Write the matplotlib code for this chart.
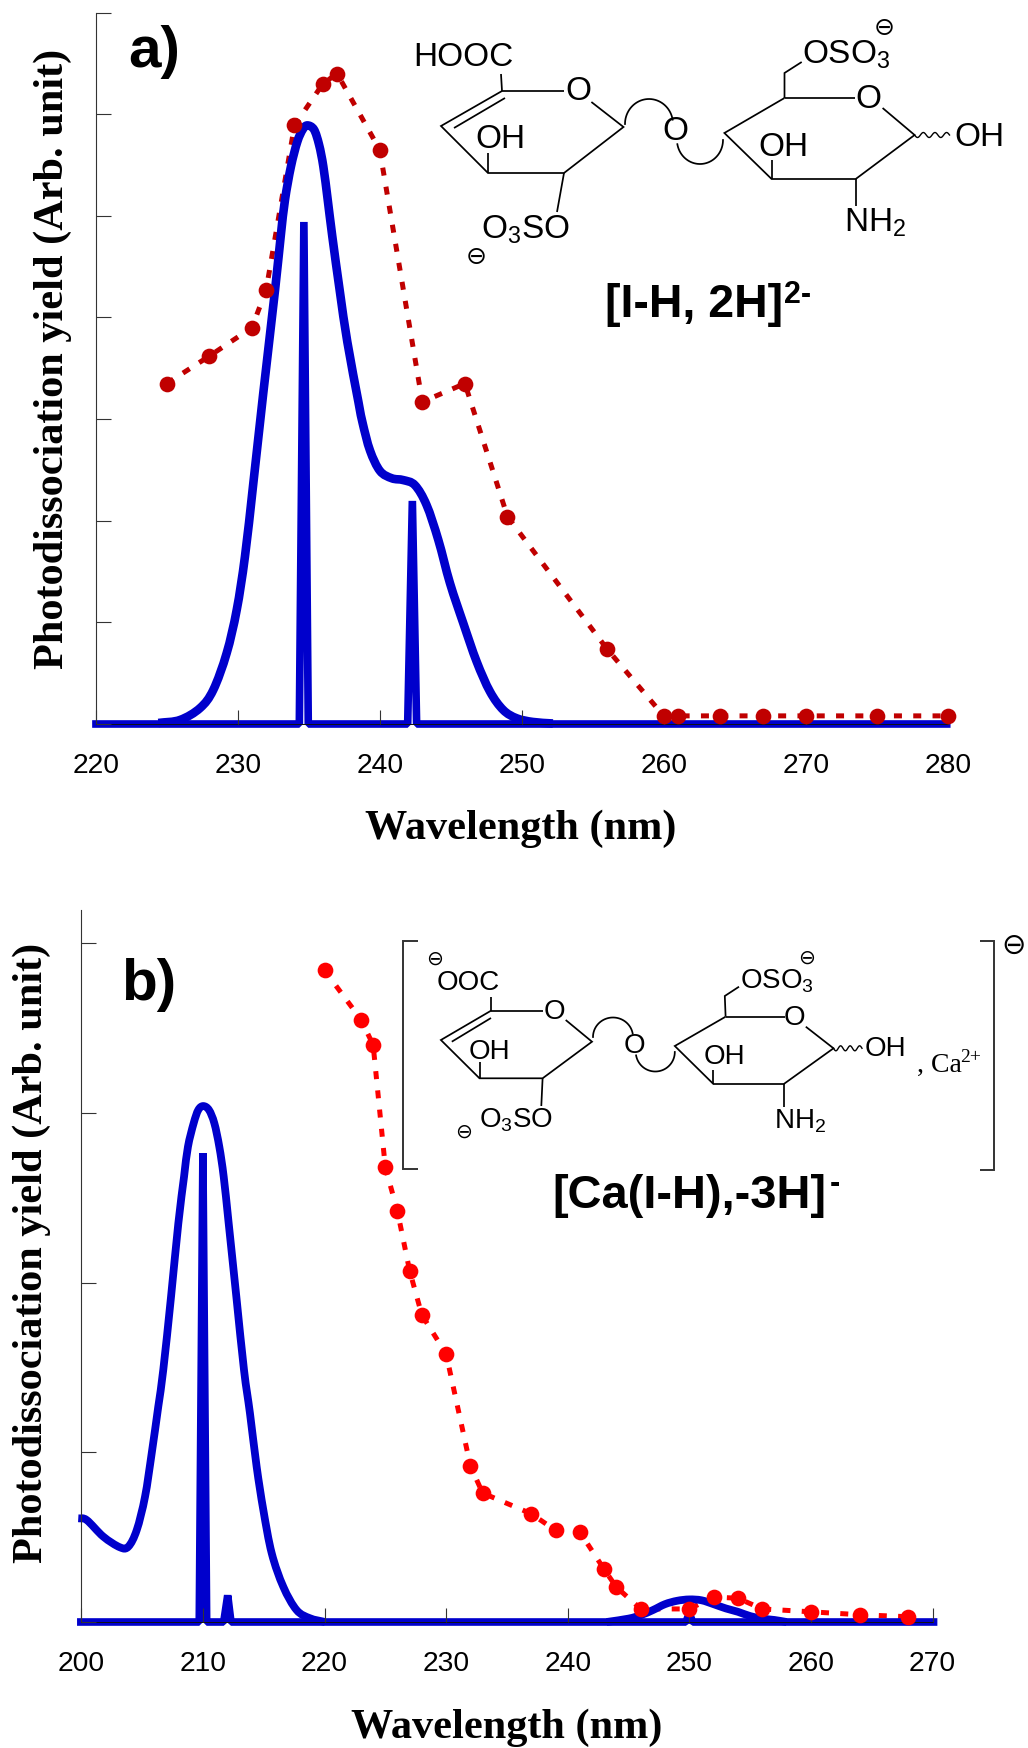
import numpy as np
import matplotlib
matplotlib.use('Agg')
import matplotlib.pyplot as plt
from matplotlib.path import Path
from matplotlib.patches import PathPatch

plt.rcParams['font.family'] = ['Liberation Sans', 'DejaVu Sans']
plt.rcParams['mathtext.default'] = 'regular'

W, H = 1028, 1748
BLUE = '#0000CC'
RED_A = '#C00000'
RED_B = '#FF0000'
GREY = '#333333'

# panel a, experiment points
exp_x_a = [225, 228, 231, 232, 234, 236, 237, 240, 243, 246, 249, 256, 260, 261, 264, 267, 270, 275, 280]
exp_y_a = [3.35, 3.62, 3.90, 4.27, 5.89, 6.30, 6.40, 5.65, 3.17, 3.35, 2.04, 0.74, 0.08, 0.08, 0.08, 0.08, 0.08, 0.08, 0.08]
# panel a, calculated envelope
calc_x_a = [224.41, 225.94, 227.35, 228.28, 229.22, 229.93, 230.51, 231.1, 231.8, 232.63, 233.03, 233.33, 233.75,
            234.2, 234.58, 234.9, 235.37, 235.73, 236.03, 236.34, 236.66, 237.2, 237.72, 238.5, 238.8, 239.32,
            240.02, 240.85, 241.66, 242.48, 243.3, 244.13, 244.95, 245.89, 246.83, 247.77, 248.7, 249.65, 250.8, 252.2]
calc_y_a = [0.01, 0.04, 0.157, 0.335, 0.696, 1.122, 1.647, 2.369, 3.255, 4.27, 4.80, 5.157, 5.486,
            5.73, 5.85, 5.89, 5.85, 5.70, 5.486, 5.157, 4.80, 4.25, 3.76, 3.17, 2.96, 2.69,
            2.49, 2.418, 2.40, 2.35, 2.155, 1.81, 1.385, 0.99, 0.613, 0.318, 0.138, 0.056, 0.02, 0.005]
# panel a, sticks
stick_x_a = [219.75, 234.34, 234.66, 234.97, 241.97, 242.3, 242.6, 280.2]
stick_y_a = [0, 0, 4.94, 0, 0, 2.195, 0, 0]
ticks_a = [220, 230, 240, 250, 260, 270, 280]

# panel b, the envelope is two separate humps over a flat baseline
exp_x_b = [220, 223, 224, 225, 226, 227, 228, 230, 232, 233, 237, 239, 241, 243, 244, 246, 250, 252, 254, 256, 260, 264, 268]
exp_y_b = [3.84, 3.55, 3.40, 2.68, 2.42, 2.07, 1.81, 1.58, 0.92, 0.76, 0.638, 0.54, 0.53, 0.31, 0.206, 0.077, 0.077, 0.147, 0.14, 0.077, 0.06, 0.043, 0.031]
calc_x_b = [199.75, 200.44, 201.81, 203.18, 203.87, 204.56, 205.24, 205.79, 206.33, 206.74, 207.38, 207.98, 208.45, 208.77,
            209.24, 209.62, 210.03, 210.5, 210.94, 211.35, 211.71, 212.12, 212.75, 213.38, 213.87, 214.42, 214.97,
            215.66, 216.61, 217.71, 218.81, 220.04]
calc_y_b = [0.611, 0.601, 0.503, 0.44, 0.444, 0.542, 0.738, 0.994, 1.269, 1.485, 1.917, 2.349, 2.624, 2.80,
            2.939, 3.017, 3.04, 3.017, 2.939, 2.80, 2.624, 2.349, 1.917, 1.485, 1.23, 0.915, 0.66,
            0.405, 0.208, 0.07, 0.022, 0]
bump_x_b = [243.2, 245, 246, 247, 248, 249, 250, 251, 252, 253, 254, 255, 256, 257, 258]
bump_y_b = [0, 0.02, 0.04, 0.07, 0.105, 0.125, 0.133, 0.128, 0.105, 0.08, 0.06, 0.035, 0.02, 0.012, 0]
stick_x_b = [199.65, 209.7, 210.0, 210.31, 211.71, 212.04, 212.31, 249.72, 250, 250.28, 270.4]
stick_y_b = [0, 0, 2.762, 0, 0, 0.157, 0, 0, 0.05, 0, 0]
ticks_b = [200, 210, 220, 230, 240, 250, 260, 270]


def make_axes(left, right, top, bottom):
    return fig.add_axes([left / W, 1 - bottom / H, (right - left) / W, (bottom - top) / H])


def smooth(ax, x, y, lw):
    # bezier through the read points, the original curve is a smoothed trace
    p = np.column_stack([x, y])
    tan = np.gradient(p, axis=0)
    verts = [p[0]]
    codes = [Path.MOVETO]
    for i in range(len(p) - 1):
        verts += [p[i] + tan[i] / 3, p[i + 1] - tan[i + 1] / 3, p[i + 1]]
        codes += [Path.CURVE4] * 3
    ax.add_patch(PathPatch(Path(verts, codes), fill=False, ec=BLUE, lw=lw, capstyle='butt',
                           joinstyle='round', clip_on=False, zorder=2.2))


def panel(ax, xlim, ylim, xticks, yticks, ex, ey, sx, sy, red):
    ax.set_xlim(xlim)
    ax.set_ylim(0, ylim)
    ax.set_axisbelow(False)
    ax.plot(ex, ey, color=red, lw=3.6, ls=(0, (1.6, 2.26)), dash_capstyle='butt', clip_on=False, zorder=2)
    ax.plot(sx, sy, color=BLUE, lw=5.5, solid_joinstyle='bevel', solid_capstyle='butt', clip_on=False, zorder=2.2)
    ax.plot(ex, ey, 'o', color=red, ms=11.3, mew=0, clip_on=False, zorder=4)
    for s in ['top', 'right']:
        ax.spines[s].set_visible(False)
    ax.spines['left'].set_color(GREY)
    # the axis line shows as a thin broken line over the blue baseline
    ax.spines['bottom'].set_color('#111111')
    ax.spines['bottom'].set_linewidth(0.7)
    ax.spines['bottom'].set_linestyle((0, (2.5, 1)))
    ax.set_xticks(xticks)
    ax.set_yticks(yticks)
    ax.set_yticklabels([])
    ax.tick_params(axis='x', direction='in', length=10, width=0.8, color=GREY, labelsize=20.3, pad=21)
    ax.tick_params(axis='y', direction='in', length=10.5, width=0.8, color=GREY)
    ax.patch.set_alpha(0)


fig = plt.figure(figsize=(W / 100, H / 100), dpi=100, facecolor='white')

ax_a = make_axes(95.7, 947.7, 12.6, 724)
panel(ax_a, (220, 280), 7, ticks_a, range(8), exp_x_a, exp_y_a, stick_x_a, stick_y_a, RED_A)
smooth(ax_a, calc_x_a, calc_y_a, 6.2)
ax_b = make_axes(81.3, 932.5, 909.7, 1622)
panel(ax_b, (200, 270), 4.197, ticks_b, range(5), exp_x_b, exp_y_b, stick_x_b, stick_y_b, RED_B)
smooth(ax_b, calc_x_b, calc_y_b, 5.6)
smooth(ax_b, bump_x_b, bump_y_b, 5.6)

# overlay in image pixels for labels and the molecule sketches
ov = fig.add_axes([0, 0, 1, 1], zorder=5)
ov.set_xlim(0, W)
ov.set_ylim(H, 0)
ov.axis('off')


def lines(*pts, color='black', lw=1.25):
    xs = [p[0] for p in pts]
    ys = [p[1] for p in pts]
    ov.plot(xs, ys, color=color, lw=lw, solid_joinstyle='miter', solid_capstyle='butt')


def arc(cx, cy, rx, ry, t0, t1):
    t = np.radians(np.linspace(t0, t1, 40))
    ov.plot(cx + rx * np.cos(t), cy - ry * np.sin(t), color='black', lw=1.25)


def wavy(x0, x1, y):
    t = np.linspace(0, 1, 60)
    ov.plot(x0 + (x1 - x0) * t, y + 2.5 * np.sin(t * 2 * np.pi * 3), color='black', lw=1.0)


def label(x, y, s, size, ha='left', va='center', **kw):
    ov.text(x, y, s, fontsize=size, ha=ha, va=va, **kw)


def minus(x, y, size=18):
    ov.text(x, y, '\u2296', fontsize=size, ha='center', va='center', family='DejaVu Sans')


serif_bold = dict(family='Liberation Serif', fontweight='bold')
label(521, 828.5, 'Wavelength (nm)', 30.4, ha='center', **serif_bold)
label(507, 1728, 'Wavelength (nm)', 30.4, ha='center', **serif_bold)
label(53, 358.5, 'Photodissociation yield (Arb. unit)', 30.4, ha='center', rotation=90, **serif_bold)
label(32, 1253, 'Photodissociation yield (Arb. unit)', 30.4, ha='center', rotation=90, **serif_bold)
label(128, 67, 'a)', 42, va='baseline', fontweight='bold')
label(121, 1000, 'b)', 42, va='baseline', fontweight='bold')

# molecule a
lines((502, 91), (441, 126), (488, 173), (564, 173), (623.5, 127), (591.4, 102))
lines((502, 91), (564, 91))
lines((454, 128), (505, 98))
lines((501, 74), (502, 91))
lines((488, 173), (488, 153))
lines((564, 173), (557, 212))
arc(649, 124, 24, 25, 180, 10)
arc(700, 140, 23, 24, 190, 360)
lines((784.5, 98), (724.4, 133), (771.6, 179), (855.7, 179), (914.6, 135), (882.6, 108))
lines((784.5, 98), (854.5, 98))
lines((784.5, 98), (784.5, 73), (801.7, 62))
lines((771.6, 179), (771.6, 160))
lines((855.7, 179), (855.7, 206))
wavy(914.6, 949.5, 135)
label(413, 58, 'HOOC', 24)
label(578, 92, 'O', 24, ha='center')
label(475, 140, 'OH', 24)
label(481, 230, 'O$_3$SO', 24)
minus(476, 257)
label(675.5, 132, 'O', 24, ha='center')
label(868.6, 99, 'O', 24, ha='center')
label(802, 55, 'OSO$_3$', 24)
minus(884, 28)
label(758, 147, 'OH', 24)
label(844, 223, 'NH$_2$', 24)
label(954, 137, 'OH', 24)
label(605, 316.7, '[I-H, 2H]', 33.5, va='baseline', fontweight='bold')
label(784, 303, '2-', 22, va='baseline', fontweight='bold')

# molecule b
lines((417.7, 940.7), (403, 940.7), (403, 1169), (417.7, 1169), color='#333333', lw=1.4)
lines((980, 940.7), (993.7, 940.7), (993.7, 1170), (980, 1170), color='#333333', lw=1.4)
lines((491, 1010.7), (440.9, 1040), (479.5, 1078.3), (542.6, 1078.3), (592, 1041.7), (565.7, 1020))
lines((491, 1010.7), (542.6, 1010.7))
lines((451.8, 1041.7), (491, 1018))
lines((491, 996.7), (491, 1010.7))
lines((479.5, 1078.3), (479.5, 1061.7))
lines((542.6, 1078.3), (541.3, 1106))
arc(613, 1037, 20, 19.5, 180, 10)
arc(655.3, 1052, 19.5, 19.5, 190, 360)
lines((725.6, 1016.7), (674.8, 1046), (713.4, 1084), (783.8, 1084), (833.5, 1048.3), (805.8, 1026.7))
lines((725.6, 1016.7), (784.6, 1016.7))
lines((725.6, 1016.7), (724.8, 996), (739, 986.7))
lines((713.4, 1084), (713.4, 1070))
lines((783.8, 1084), (783.8, 1106.7))
wavy(833.5, 862, 1048.3)
label(437, 983, 'OOC', 20)
minus(434.8, 959.3, 14.5)
label(554, 1011.7, 'O', 20, ha='center')
label(468.5, 1052, 'OH', 20)
label(479, 1120.7, 'O$_3$SO', 20)
minus(464, 1132, 14.5)
label(634, 1046, 'O', 20, ha='center')
label(794.8, 1018, 'O', 20, ha='center')
label(740, 981, 'OSO$_3$', 20)
minus(807, 958.3, 14.5)
label(703.5, 1057, 'OH', 20)
label(774, 1121, 'NH$_2$', 20)
label(864.5, 1049.3, 'OH', 20)
label(916.8, 1072, ', Ca', 20, va='baseline', family='Liberation Serif')
label(960, 1062, '2+', 14, va='baseline', family='Liberation Serif')
minus(1013.7, 945.7, 21)
label(552, 1208, '[Ca(I-H),-3H]', 33.8, va='baseline', fontweight='bold')
label(830, 1192, '-', 22, va='baseline', fontweight='bold')

fig.savefig('out.png', dpi=100)
